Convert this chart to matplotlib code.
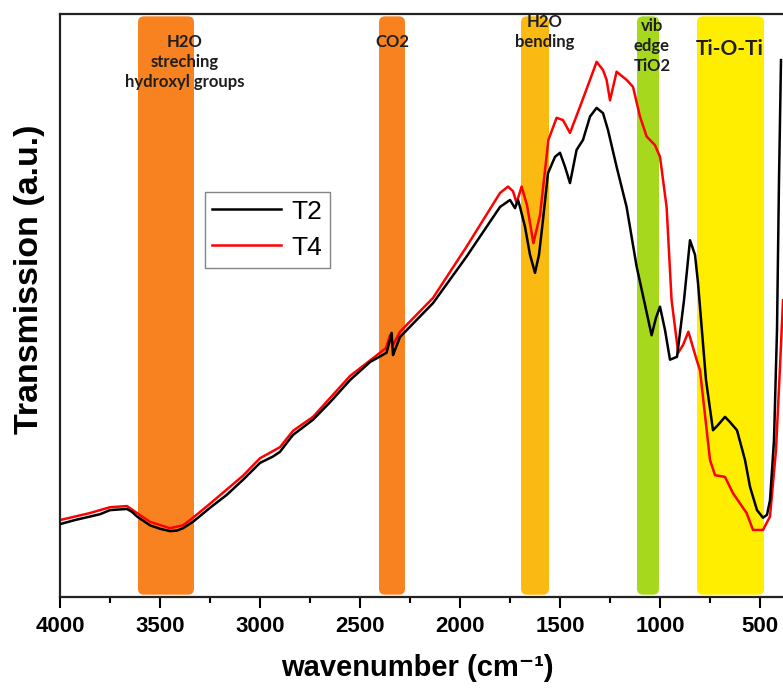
import matplotlib
matplotlib.use("Agg")
import matplotlib.pyplot as plt
from matplotlib.patches import FancyBboxPatch
from matplotlib.ticker import MultipleLocator, NullLocator

plt.rcParams["font.family"] = ["Liberation Sans", "DejaVu Sans"]

# FTIR spectra, transmission in arbitrary units
t2_wn = [4000, 3925, 3850, 3800, 3750, 3710, 3665, 3640, 3615, 3550, 3500, 3450,
         3415, 3385, 3335, 3250, 3167, 3085, 3000, 2935, 2900, 2867, 2835, 2735,
         2650, 2550, 2450, 2367, 2342, 2335, 2325, 2300, 2135, 1967, 1867, 1800,
         1750, 1725, 1710, 1700, 1675, 1650, 1625, 1605, 1585, 1560, 1525, 1500,
         1475, 1450, 1417, 1385, 1350, 1317, 1285, 1260, 1217, 1167, 1117, 1075,
         1042, 1020, 1000, 975, 950, 915, 880, 850, 825, 810, 770, 735, 710, 675,
         650, 615, 575, 550, 515, 485, 465, 450, 430, 415, 405, 395]
t2_tr = [12.5, 13.2, 13.8, 14.2, 14.9, 15.0, 15.1, 14.6, 13.8, 12.3, 11.7, 11.3,
         11.4, 11.8, 12.9, 15.3, 17.5, 20.1, 23.0, 24.1, 24.9, 26.4, 27.8, 30.4,
         33.4, 37.2, 40.3, 41.9, 45.3, 41.5, 42.4, 44.6, 50.4, 58.4, 63.5, 66.9,
         68.1, 66.7, 68.1, 66.9, 63.5, 58.7, 55.6, 58.7, 64.7, 72.7, 75.5, 76.2,
         73.8, 71.0, 76.7, 78.4, 82.4, 83.9, 83.0, 80.1, 73.8, 66.9, 56.7, 50.1,
         44.9, 47.9, 49.8, 45.8, 40.7, 41.2, 50.9, 61.2, 58.7, 53.9, 37.2, 28.6,
         29.5, 30.9, 30.0, 28.6, 23.5, 18.9, 14.9, 13.6, 14.1, 16.6, 26.9, 45.8,
         71.5, 92.1]

t4_wn = [4000, 3850, 3750, 3665, 3615, 3550, 3450, 3385, 3335, 3250, 3085, 3000,
         2900, 2835, 2735, 2550, 2370, 2350, 2335, 2300, 2135, 1967, 1800, 1760,
         1735, 1717, 1692, 1665, 1633, 1600, 1558, 1517, 1485, 1450, 1400, 1350,
         1317, 1285, 1267, 1250, 1217, 1167, 1135, 1100, 1067, 1025, 1000, 967,
         942, 909, 885, 858, 817, 800, 750, 725, 675, 635, 567, 535, 485, 450,
         420, 400, 385]
t4_tr = [13.2, 14.4, 15.4, 15.6, 14.4, 12.9, 11.8, 12.3, 13.6, 16.0, 20.8, 23.8,
         25.7, 28.5, 30.9, 37.9, 42.7, 44.9, 43.2, 45.5, 51.3, 60.1, 69.3, 70.4,
         69.6, 67.6, 70.4, 67.2, 60.7, 65.5, 78.4, 82.2, 81.8, 79.6, 84.1, 88.7,
         91.8, 90.4, 88.7, 85.2, 90.1, 88.7, 87.5, 82.4, 79.0, 77.5, 75.5, 66.9,
         50.9, 41.9, 43.2, 45.5, 40.7, 38.9, 23.5, 20.9, 20.6, 17.8, 14.4, 11.5,
         11.5, 13.8, 25.2, 39.5, 50.9]

# assignment bands: (high wavenumber, low wavenumber, colour)
band_hi = [3610, 2405, 1695, 1115, 815]
band_lo = [3330, 2275, 1555, 1005, 480]
band_colors = ["#F7821F", "#F7821F", "#FBBA12", "#A6D81E", "#FFEE00"]

W, H, DPI = 783, 691, 100
fig = plt.figure(figsize=(W / DPI, H / DPI), dpi=DPI)
ax_left, ax_right, ax_bottom, ax_top = 60, 790, 597, 14
ax = fig.add_axes([ax_left / W, 1 - ax_bottom / H,
                   (ax_right - ax_left) / W, (ax_bottom - ax_top) / H])

x_hi, x_lo = 4000, 350
y_lo, y_hi = 0, 100
ax.set_xlim(x_hi, x_lo)
ax.set_ylim(y_lo, y_hi)

# rounded bands: keep corners circular in pixel space
px_per_x = (ax_right - ax_left) / (x_hi - x_lo)
px_per_y = (ax_bottom - ax_top) / (y_hi - y_lo)
aspect = px_per_x / px_per_y
for hi, lo, c in zip(band_hi, band_lo, band_colors):
    patch = FancyBboxPatch((lo, 0.4), hi - lo, 99.2,
                           boxstyle="round,pad=0,rounding_size=30",
                           mutation_aspect=aspect,
                           facecolor=c, edgecolor="none", zorder=1)
    ax.add_patch(patch)

ax.plot(t2_wn, t2_tr, color="black", lw=1.8, label="T2", zorder=3)
ax.plot(t4_wn, t4_tr, color="#FF0000", lw=1.8, label="T4", zorder=2)

ann_font = dict(family=["Lato", "DejaVu Sans"], fontweight="bold",
                color="#1E1E1E", ha="center", va="top", linespacing=1.3)
ax.text(3375, 96.5, "H2O\nstreching\nhydroxyl groups", fontsize=12, **ann_font)
ax.text(2340, 96.5, "CO2", fontsize=12, **ann_font)
ax.text(1575, 100.0, "H2O\nbending", fontsize=12, **ann_font)
ax.text(1040, 99.3, "vib\nedge\nTiO2", fontsize=12, **ann_font)
ax.text(650, 95.7, "Ti-O-Ti", fontsize=15, **ann_font)

leg = ax.legend(loc="upper left", bbox_to_anchor=(0.198, 0.695),
                borderaxespad=0, fontsize=19, frameon=True, fancybox=False,
                handlelength=2.6, handletextpad=0.4, borderpad=0.3,
                labelspacing=0.45)
leg.get_frame().set_edgecolor("#666666")
leg.get_frame().set_linewidth(1.0)

for side in ["left", "bottom", "top", "right"]:
    ax.spines[side].set_linewidth(1.6)
    ax.spines[side].set_color("#222222")

ax.xaxis.set_major_locator(MultipleLocator(500))
ax.xaxis.set_minor_locator(MultipleLocator(250))
ax.yaxis.set_major_locator(NullLocator())
ax.yaxis.set_minor_locator(NullLocator())
ax.tick_params(axis="x", which="major", direction="out", length=8, width=1.5,
               labelsize=16, pad=6)
ax.tick_params(axis="x", which="minor", direction="out", length=4, width=1.5)
for lab in ax.get_xticklabels():
    lab.set_fontweight("bold")

ax.set_xlabel("wavenumber (cm\u207b\u00b9)", fontsize=21, fontweight="bold")
ax.xaxis.set_label_coords(0.49, -0.097)
ax.set_ylabel("Transmission (a.u.)", fontsize=24.5, fontweight="bold")
ax.yaxis.set_label_coords(-0.02, 0.545)

fig.savefig("out.png", dpi=DPI)
